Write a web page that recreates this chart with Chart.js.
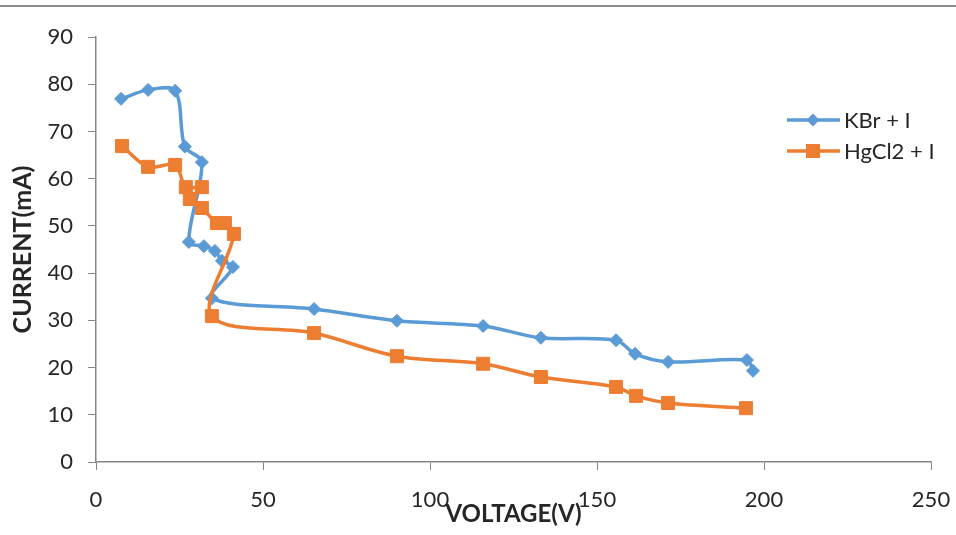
<!DOCTYPE html>
<html>
<head>
<meta charset="utf-8">
<script src="https://cdn.jsdelivr.net/npm/chart.js@4"></script>
<style>
  html, body { margin: 0; padding: 0; background: #fff; }
  #wrap { width: 956px; height: 535px; position: relative; }
</style>
</head>
<body>
<div id="wrap"><canvas id="c" width="956" height="535"></canvas></div>
<script>
// Discharge characteristics: current vs. voltage for two electrolyte mixes
const kbrVoltage = [7.5, 15.6, 23.7, 26.6, 31.7, 27.8, 32.3, 35.6, 37.7, 41.0, 34.7, 65.3, 90.1, 115.9, 133.2, 155.7, 161.4, 171.3, 194.9, 196.7];
const kbrCurrent = [76.9, 78.8, 78.6, 66.8, 63.5, 46.6, 45.7, 44.7, 42.6, 41.3, 34.7, 32.4, 29.9, 28.8, 26.3, 25.8, 22.9, 21.2, 21.6, 19.3];

const hgVoltage = [7.8, 15.6, 23.7, 26.9, 31.7, 28.1, 31.7, 36.2, 38.6, 41.3, 34.7, 65.3, 90.1, 115.9, 133.2, 155.7, 161.7, 171.3, 194.6];
const hgCurrent = [66.9, 62.5, 62.9, 58.2, 58.2, 55.7, 53.8, 50.6, 50.6, 48.3, 30.9, 27.3, 22.4, 20.8, 18.0, 15.9, 14.0, 12.5, 11.4];

const seriesNames = ['KBr + I', 'HgCl2 + I'];
const seriesColors = ['#5B9BD5', '#ED7D31'];
const xTicks = [0, 50, 100, 150, 200, 250];
const yTicks = [0, 10, 20, 30, 40, 50, 60, 70, 80, 90];

const toPoints = (xs, ys) => xs.map((x, i) => ({ x: x, y: ys[i] }));

const FONT = 'Lato, "Open Sans", sans-serif';
const AXIS_GREY = '#868686';

// Top frame edge and the in-plot legend
const decorations = {
  id: 'decorations',
  beforeDraw(chart) {
    const ctx = chart.ctx;
    ctx.save();
    ctx.fillStyle = '#fff';
    ctx.fillRect(0, 0, chart.width, chart.height);
    ctx.strokeStyle = '#8c8c8c';
    ctx.lineWidth = 2;
    ctx.beginPath();
    ctx.moveTo(0, 6);
    ctx.lineTo(chart.width, 6);
    ctx.stroke();
    ctx.restore();
  },
  afterDraw(chart) {
    const ctx = chart.ctx;
    ctx.save();
    const rows = [120, 151];
    const x0 = 787, x1 = 840, xm = 813;
    rows.forEach((y, i) => {
      ctx.strokeStyle = seriesColors[i];
      ctx.lineWidth = 3.5;
      ctx.beginPath();
      ctx.moveTo(x0, y);
      ctx.lineTo(x1, y);
      ctx.stroke();
      ctx.fillStyle = seriesColors[i];
      ctx.beginPath();
      if (i === 0) {
        const r = 6.5;
        ctx.moveTo(xm, y - r);
        ctx.lineTo(xm + r, y);
        ctx.lineTo(xm, y + r);
        ctx.lineTo(xm - r, y);
        ctx.closePath();
      } else {
        ctx.rect(xm - 7, y - 7, 14, 14);
      }
      ctx.fill();
      ctx.fillStyle = '#262626';
      ctx.font = '22px ' + FONT;
      ctx.textBaseline = 'middle';
      ctx.textAlign = 'left';
      ctx.fillText(seriesNames[i], 844, y + 1);
    });
    ctx.restore();
  }
};

new Chart(document.getElementById('c'), {
  type: 'scatter',
  data: {
    datasets: [
      {
        label: seriesNames[0],
        data: toPoints(kbrVoltage, kbrCurrent),
        showLine: true,
        borderColor: seriesColors[0],
        backgroundColor: seriesColors[0],
        borderWidth: 3.5,
        tension: 0.33,
        pointStyle: 'rectRot',
        pointRadius: 6.5,
        pointBorderWidth: 1,
        order: 1
      },
      {
        label: seriesNames[1],
        data: toPoints(hgVoltage, hgCurrent),
        showLine: true,
        borderColor: seriesColors[1],
        backgroundColor: seriesColors[1],
        borderWidth: 3.5,
        tension: 0.33,
        pointStyle: 'rect',
        pointRadius: 9.2,
        pointBorderWidth: 1,
        order: 0
      }
    ]
  },
  options: {
    responsive: false,
    animation: false,
    layout: { padding: { top: 37, right: 25, left: 0, bottom: 0 } },
    plugins: {
      legend: { display: false },
      tooltip: { enabled: false }
    },
    scales: {
      x: {
        type: 'linear',
        min: 0,
        max: 250,
        afterBuildTicks: s => { s.ticks = xTicks.map(v => ({ value: v })); },
        afterFit: s => { s.height = 73; s.paddingLeft = 0; s.paddingRight = 0; },
        grid: {
          display: true,
          drawOnChartArea: false,
          drawTicks: true,
          tickLength: 8,
          color: AXIS_GREY,
          lineWidth: 1
        },
        border: { display: true, color: AXIS_GREY, width: 1.5 },
        ticks: {
          color: '#262626',
          font: { family: FONT, size: 22 },
          padding: 17,
          maxRotation: 0
        },
        title: {
          display: true,
          text: 'VOLTAGE(V)',
          color: '#262626',
          font: { family: FONT, size: 24, weight: 'bold' },
          padding: { top: 0, bottom: 6 }
        }
      },
      y: {
        type: 'linear',
        min: 0,
        max: 90,
        afterBuildTicks: s => { s.ticks = yTicks.map(v => ({ value: v })); },
        afterFit: s => { s.width = 96; },
        grid: {
          display: true,
          drawOnChartArea: false,
          drawTicks: true,
          tickLength: 8,
          color: AXIS_GREY,
          lineWidth: 1
        },
        border: { display: true, color: AXIS_GREY, width: 1.5 },
        ticks: {
          color: '#262626',
          font: { family: FONT, size: 22 },
          padding: 15
        },
        title: {
          display: true,
          text: 'CURRENT(mA)',
          color: '#262626',
          font: { family: FONT, size: 25, weight: 'bold' },
          padding: { top: 8, bottom: 0 }
        }
      }
    }
  },
  plugins: [decorations]
});
</script>
</body>
</html>
